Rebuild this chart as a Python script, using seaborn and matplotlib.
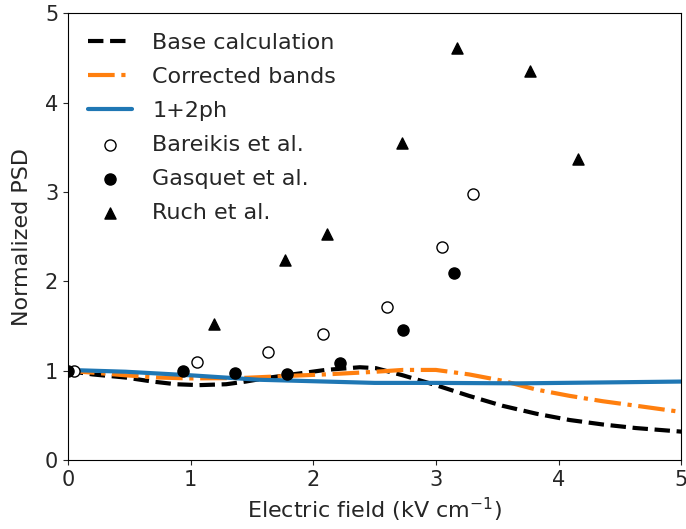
import numpy as np
import matplotlib
matplotlib.use('Agg')
import matplotlib.pyplot as plt
import seaborn as sns

# curves
field_base = [0.0, 0.2, 0.47, 0.69, 0.88, 1.07, 1.29, 1.45, 1.62, 1.83, 2.1, 2.38,
              2.51, 2.73, 3.0, 3.27, 3.54, 3.82, 4.09, 4.36, 4.63, 5.0]
psd_base = [1.0, 0.96, 0.925, 0.88, 0.85, 0.84, 0.85, 0.88, 0.92, 0.96, 1.01, 1.04,
            1.03, 0.95, 0.84, 0.72, 0.61, 0.52, 0.45, 0.40, 0.36, 0.32]

field_corr = [0.0, 0.2, 0.47, 0.74, 1.0, 1.42, 1.83, 2.1, 2.38, 2.51, 2.73, 3.0,
              3.27, 3.54, 3.82, 4.09, 4.36, 4.63, 5.0]
psd_corr = [1.0, 0.98, 0.95, 0.925, 0.915, 0.92, 0.945, 0.96, 0.98, 0.99, 1.01, 1.01,
            0.96, 0.89, 0.79, 0.72, 0.66, 0.61, 0.54]

field_ph = [0.0, 0.47, 1.0, 1.56, 2.1, 2.5, 3.0, 3.68, 4.36, 5.0]
psd_ph = [1.01, 0.99, 0.95, 0.90, 0.88, 0.865, 0.865, 0.86, 0.87, 0.88]

# experimental points
bareikis_x = [0.05, 1.05, 1.63, 2.08, 2.60, 3.05, 3.30]
bareikis_y = [1.0, 1.10, 1.21, 1.41, 1.71, 2.39, 2.98]

gasquet_x = [0.0, 0.94, 1.36, 1.79, 2.22, 2.73, 3.15]
gasquet_y = [1.0, 1.0, 0.98, 0.97, 1.09, 1.46, 2.09]

ruch_x = [1.19, 1.77, 2.11, 2.72, 3.17, 3.77, 4.16]
ruch_y = [1.52, 2.24, 2.53, 3.55, 4.61, 4.35, 3.37]

sns.set_style('ticks')
plt.rcParams['font.family'] = ['DejaVu Sans']

fig, ax = plt.subplots(figsize=(6.86, 5.29), dpi=100)
fig.subplots_adjust(left=0.099, right=0.993, top=0.975, bottom=0.130)

sns.lineplot(x=field_base, y=psd_base, ax=ax, color='black', linestyle='--',
             lw=3, label='Base calculation', sort=False)
sns.lineplot(x=field_corr, y=psd_corr, ax=ax, color='#ff7f0e', linestyle='-.',
             lw=3, label='Corrected bands', sort=False)
sns.lineplot(x=field_ph, y=psd_ph, ax=ax, color='#1f77b4', linestyle='-',
             lw=3, label='1+2ph', sort=False)

sns.scatterplot(x=bareikis_x, y=bareikis_y, ax=ax, marker='o', s=64,
                facecolor='white', edgecolor='black', linewidth=1,
                label='Bareikis et al.', zorder=3)
sns.scatterplot(x=gasquet_x, y=gasquet_y, ax=ax, marker='o', s=64,
                color='black', edgecolor='black', linewidth=1,
                label='Gasquet et al.', zorder=3)
sns.scatterplot(x=ruch_x, y=ruch_y, ax=ax, marker='^', s=64,
                color='black', edgecolor='black', linewidth=1,
                label='Ruch et al.', zorder=3)

ax.set_xlim(0, 5)
ax.set_ylim(0, 5)
ax.set_xticks(range(6))
ax.set_yticks(range(6))
ax.tick_params(labelsize=15)
ax.set_xlabel('Electric field (kV cm$^{-1}$)', fontsize=16)
ax.set_ylabel('Normalized PSD', fontsize=16, labelpad=9)
for sp in ax.spines.values():
    sp.set_visible(True)
    sp.set_color('black')

ax.legend(loc='upper left', frameon=False, fontsize=16, labelspacing=0.63,
          handletextpad=0.9)

plt.savefig('out.png', dpi=100, facecolor='white')
plt.close()
